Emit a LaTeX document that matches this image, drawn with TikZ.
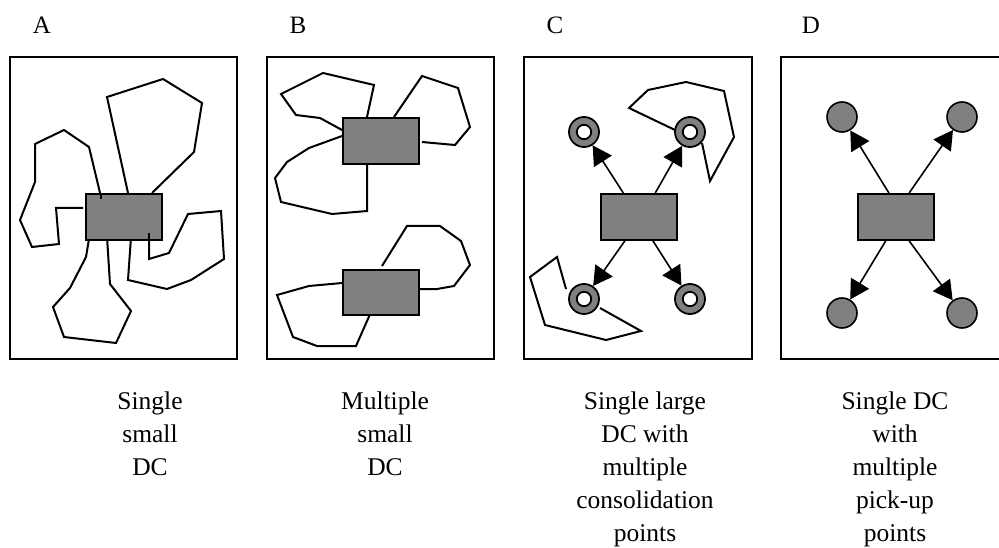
\documentclass[tikz,border=0pt]{standalone}
\usepackage{fontspec}
\setmainfont{Liberation Serif}
\usetikzlibrary{arrows.meta,calc}

\definecolor{dcgray}{HTML}{808080}
\tikzset{
  frame/.style={draw, line width=2pt},
  dc/.style={draw, line width=1.8pt, fill=dcgray},
  route/.style={draw, line width=2pt, line join=miter},
  flow/.style={line width=1.6pt, -{Triangle[length=19pt,width=21pt]}},
  ring/.style={circle, draw, line width=1.8pt, fill=dcgray, minimum size=30pt, inner sep=0pt,
    path picture={\draw[line width=1.8pt, fill=white] (path picture bounding box.center) circle (7.2pt);}},
  dot/.style={circle, draw, line width=1.6pt, fill=dcgray, minimum size=30pt, inner sep=0pt},
  panel/.style={font=\fontsize{25}{33}\selectfont, anchor=base, inner sep=0pt},
  caption/.style={font=\fontsize{25.5}{33}\selectfont, align=center, anchor=north, inner sep=0pt}
}

\begin{document}
\begin{tikzpicture}[x=1pt, y=-1pt]
\useasboundingbox (0,0) rectangle (999,548);

% ---------- panel letters ----------
\node[panel] (labA) at (42,34) {A};
\node[panel] (labB) at (298,34) {B};
\node[panel] (labC) at (555,34) {C};
\node[panel] (labD) at (811,34) {D};

% ---------- A: single small DC ----------
\draw[frame] (10,57) rectangle (237,359);
\draw[route] (128,193) -- (107,97) -- (163,79) -- (202,103) -- (194,152) -- (152,193);
\draw[route] (101,197) -- (89,147) -- (64,130) -- (35,144) -- (35,182) -- (20,220) -- (32,247) -- (59,244) -- (56,208) -- (83,208);
\draw[route] (89,239) -- (86,257) -- (70,288) -- (53,307) -- (64,337) -- (116,343) -- (131,311) -- (110,284) -- (107,237);
\draw[route] (131,237) -- (128,280) -- (167,289) -- (191,280) -- (224,259) -- (221,211) -- (188,214) -- (169,253) -- (149,259) -- (149,235);
\node[dc, minimum width=76pt, minimum height=46pt, anchor=north west] (dcA) at (85,193) {};
\draw[route] (101,193) -- (101,199);
\draw[route] (149,239) -- (149,233);

% ---------- B: multiple small DC ----------
\draw[frame] (267,57) rectangle (494,359);
\draw[route] (367,117) -- (374,85) -- (323,73) -- (281,94) -- (296,115) -- (320,118) -- (342,130);
\draw[route] (342,136) -- (309,148) -- (287,162) -- (275,178) -- (281,202) -- (332,214) -- (367,211) -- (367,163);
\draw[route] (394,117) -- (422,76) -- (458,88) -- (470,127) -- (455,145) -- (422,142);
\draw[route] (382,266) -- (407,226) -- (440,226) -- (461,241) -- (470,265) -- (454,286) -- (437,289) -- (416,289);
\draw[route] (342,283) -- (309,286) -- (277,295) -- (293,337) -- (317,346) -- (356,346) -- (371,312);
\node[dc, minimum width=76pt, minimum height=46pt, anchor=north west] (dcB1) at (342,117) {};
\node[dc, minimum width=76pt, minimum height=45pt, anchor=north west] (dcB2) at (342,269) {};

% ---------- C: single large DC with consolidation points ----------
\draw[frame] (524,57) rectangle (752,359);
\draw[route] (675,130) -- (629,108) -- (648,90) -- (686,82) -- (724,91) -- (734,137) -- (710,181) -- (702,143);
\draw[route] (566,289) -- (557,257) -- (530,277) -- (545,325) -- (606,340) -- (641,331) -- (600,308);
\node[dc, minimum width=76pt, minimum height=46pt, anchor=north west] (dcC) at (600,193) {};
\node[ring] (cp1) at (584,132) {};
\node[ring] (cp2) at (690,132) {};
\node[ring] (cp3) at (584,299) {};
\node[ring] (cp4) at (690,299) {};
\draw[flow] ($(dcC.north west)!0.30!(dcC.north east)$) -- (cp1);
\draw[flow] ($(dcC.north west)!0.71!(dcC.north east)$) -- (cp2);
\draw[flow] ($(dcC.south west)!0.32!(dcC.south east)$) -- (cp3);
\draw[flow] ($(dcC.south west)!0.68!(dcC.south east)$) -- (cp4);

% ---------- D: single DC with pick-up points ----------
\draw[frame] (781,57) rectangle (1010,359);
\node[dc, minimum width=76pt, minimum height=46pt, anchor=north west] (dcD) at (857,193) {};
\node[dot] (pp1) at (842,117) {};
\node[dot] (pp2) at (962,117) {};
\node[dot] (pp3) at (842,313) {};
\node[dot] (pp4) at (962,313) {};
\draw[flow] ($(dcD.north west)!0.41!(dcD.north east)$) -- (pp1);
\draw[flow] ($(dcD.north west)!0.67!(dcD.north east)$) -- (pp2);
\draw[flow] ($(dcD.south west)!0.37!(dcD.south east)$) -- (pp3);
\draw[flow] ($(dcD.south west)!0.67!(dcD.south east)$) -- (pp4);

% ---------- captions ----------
\node[caption] (capA) at (150,392) {Single\\small\\DC};
\node[caption] (capB) at (385,392) {Multiple\\small\\DC};
\node[caption] (capC) at (645,392) {Single large\\DC with\\multiple\\consolidation\\points};
\node[caption] (capD) at (895,392) {Single DC\\with\\multiple\\pick-up\\points};
\end{tikzpicture}
\end{document}
